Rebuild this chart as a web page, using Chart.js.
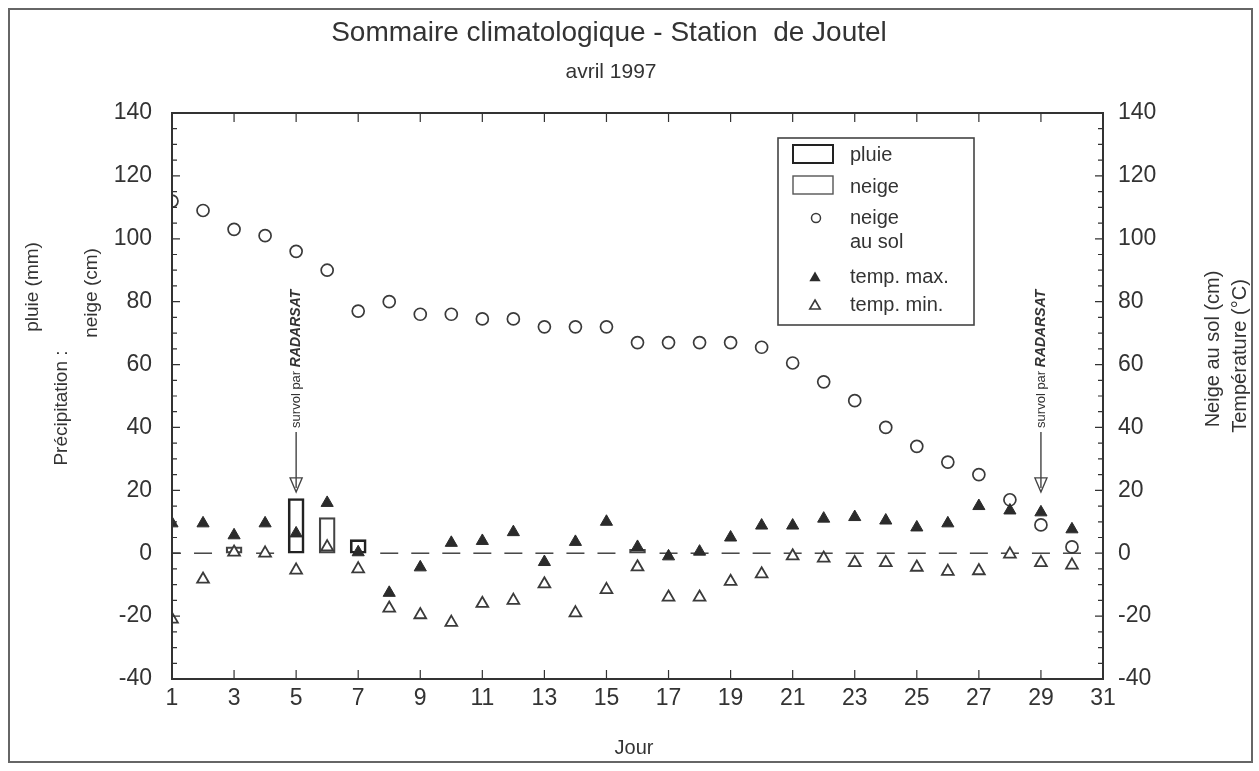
<!DOCTYPE html>
<html>
<head>
<meta charset="utf-8">
<title>Sommaire climatologique - Station de Joutel</title>
<script src="https://cdn.jsdelivr.net/npm/chart.js@4/dist/chart.umd.min.js"></script>
<style>
  html, body { margin: 0; padding: 0; background: #fff; }
  canvas { display: block; }
</style>
</head>
<body>
<canvas id="chart" width="1259" height="771"></canvas>
<script>
// avril 1997, jours 1 à 30
const days = [1, 2, 3, 4, 5, 6, 7, 8, 9, 10, 11, 12, 13, 14, 15,
  16, 17, 18, 19, 20, 21, 22, 23, 24, 25, 26, 27, 28, 29, 30];

// précipitations : pluie (mm) et neige (cm)
const pluie = [0, 0, 0, 0, 17.4, 0, 4.3, 0, 0, 0, 0, 0, 0, 0, 0,
  0, 0, 0, 0, 0, 0, 0, 0, 0, 0, 0, 0, 0, 0, 0];
const neige = [0, 0, 2, 0, 0, 11.3, 0, 0, 0, 0, 0, 0, 0, 0, 0,
  1.2, 0, 0, 0, 0, 0, 0, 0, 0, 0, 0, 0, 0, 0, 0];

// neige au sol (cm)
const neigeSol = [112, 109, 103, 101, 96, 90, 77, 80, 76, 76, 74.5, 74.5, 72, 72, 72,
  67, 67, 67, 67, 65.5, 60.5, 54.5, 48.5, 40, 34, 29, 25, 17, 9, 2];

// températures (°C)
const tempMax = [9.5, 9.5, 5.7, 9.5, 6.3, 16, 0.3, -12.6, -4.5, 3.3, 3.9, 6.7, -2.8, 3.6, 10,
  2, -1, 0.5, 5, 8.8, 8.8, 11, 11.5, 10.4, 8.2, 9.5, 15, 13.6, 13, 7.6];
const tempMin = [-21, -8.3, 0.3, 0, -5.4, 2, -5, -17.5, -19.6, -22, -16, -15, -9.8, -19, -11.6,
  -4.4, -14, -14, -9, -6.6, -0.9, -1.6, -3, -3, -4.5, -5.8, -5.6, -0.3, -3, -3.8];

const xTicks = [1, 3, 5, 7, 9, 11, 13, 15, 17, 19, 21, 23, 25, 27, 29, 31];
const yTicks = [-40, -20, 0, 20, 40, 60, 80, 100, 120, 140];

// passages du satellite
const radarsatDays = [5, 29];

const FONT = "'Liberation Sans', Arial, Helvetica, sans-serif";
const INK = '#333';

const pts = arr => days.map((d, i) => ({ x: d, y: arr[i] }));
const bars = arr => pts(arr).filter(p => p.y > 0);
const dryDays = days.filter((d, i) => pluie[i] + neige[i] === 0).map(d => ({ x: d, y: 0 }));

function vtext(ctx, txt, x, y) {
  ctx.save();
  ctx.translate(x, y);
  ctx.rotate(-Math.PI / 2);
  ctx.textAlign = 'center';
  ctx.textBaseline = 'middle';
  ctx.fillText(txt, 0, 0);
  ctx.restore();
}

function tri(ctx, x, y, r, filled) {
  ctx.beginPath();
  ctx.moveTo(x, y - r);
  ctx.lineTo(x + r * 0.866, y + r * 0.5);
  ctx.lineTo(x - r * 0.866, y + r * 0.5);
  ctx.closePath();
  if (filled) { ctx.fillStyle = '#2b2b2b'; ctx.fill(); }
  else { ctx.fillStyle = '#fff'; ctx.fill(); ctx.stroke(); }
}

const decor = {
  id: 'decor',
  beforeDraw(chart) {
    const ctx = chart.ctx;
    ctx.save();
    ctx.fillStyle = '#fff';
    ctx.fillRect(0, 0, chart.width, chart.height);
    ctx.restore();
  },
  afterDraw(chart) {
    const { ctx, chartArea: a, scales: { x, y } } = chart;
    ctx.save();

    // cadre extérieur
    ctx.strokeStyle = '#666';
    ctx.lineWidth = 2;
    ctx.strokeRect(9, 9, 1243, 753);

    // cadre du graphique
    ctx.strokeStyle = INK;
    ctx.lineWidth = 2;
    ctx.strokeRect(a.left, a.top, a.right - a.left, a.bottom - a.top);

    // graduations vers l'intérieur
    ctx.lineWidth = 1.2;
    ctx.beginPath();
    for (let v = -40; v <= 140; v += 5) {
      const py = y.getPixelForValue(v);
      const len = v % 20 === 0 ? 8 : 5;
      ctx.moveTo(a.left, py); ctx.lineTo(a.left + len, py);
      ctx.moveTo(a.right, py); ctx.lineTo(a.right - len, py);
    }
    xTicks.forEach(d => {
      const px = x.getPixelForValue(d);
      ctx.moveTo(px, a.top); ctx.lineTo(px, a.top + 9);
      ctx.moveTo(px, a.bottom); ctx.lineTo(px, a.bottom - 9);
    });
    ctx.stroke();

    // titres
    ctx.fillStyle = INK;
    ctx.textAlign = 'center';
    ctx.textBaseline = 'middle';
    ctx.font = '28px ' + FONT;
    ctx.fillText('Sommaire climatologique - Station  de Joutel', 609, 33);
    ctx.font = '21px ' + FONT;
    ctx.fillText('avril 1997', 611, 72);
    ctx.font = '20px ' + FONT;
    ctx.fillText('Jour', 634, 748);

    // titres des axes
    ctx.font = '19px ' + FONT;
    vtext(ctx, 'pluie (mm)', 33, 287);
    vtext(ctx, 'Précipitation :', 62, 408);
    vtext(ctx, 'neige (cm)', 92, 293);
    ctx.font = '20px ' + FONT;
    vtext(ctx, 'Neige au sol (cm)', 1213, 349);
    vtext(ctx, 'Température (°C)', 1240, 356);

    // survol par RADARSAT
    radarsatDays.forEach(d => {
      const px = x.getPixelForValue(d);
      const tip = y.getPixelForValue(19.5);
      const base = tip - 64;
      ctx.save();
      ctx.translate(px, base);
      ctx.rotate(-Math.PI / 2);
      ctx.textAlign = 'left';
      ctx.textBaseline = 'middle';
      ctx.font = '13px ' + FONT;
      ctx.fillText('survol par ', 0, 0);
      const w = ctx.measureText('survol par ').width;
      ctx.font = 'italic bold 14px ' + FONT;
      ctx.fillText('RADARSAT', w, 0);
      ctx.restore();
      ctx.strokeStyle = '#444';
      ctx.lineWidth = 1.4;
      ctx.beginPath();
      ctx.moveTo(px, base + 4);
      ctx.lineTo(px, tip - 4);
      ctx.moveTo(px - 6, tip - 14);
      ctx.lineTo(px, tip);
      ctx.lineTo(px + 6, tip - 14);
      ctx.closePath();
      ctx.stroke();
    });

    // légende
    ctx.fillStyle = '#fff';
    ctx.fillRect(778, 138, 196, 187);
    ctx.strokeStyle = '#444';
    ctx.lineWidth = 1.6;
    ctx.strokeRect(778, 138, 196, 187);
    ctx.strokeStyle = '#222';
    ctx.lineWidth = 2;
    ctx.strokeRect(793, 145, 40, 18);
    ctx.strokeStyle = '#555';
    ctx.lineWidth = 1.4;
    ctx.strokeRect(793, 176, 40, 18);
    ctx.strokeStyle = '#3a3a3a';
    ctx.lineWidth = 1.5;
    ctx.beginPath();
    ctx.arc(816, 218, 4.5, 0, Math.PI * 2);
    ctx.stroke();
    tri(ctx, 815, 278, 6.5, true);
    ctx.lineWidth = 1.6;
    tri(ctx, 815, 306, 6, false);
    ctx.fillStyle = INK;
    ctx.textAlign = 'left';
    ctx.textBaseline = 'middle';
    ctx.font = '20px ' + FONT;
    ctx.fillText('pluie', 850, 155);
    ctx.fillText('neige', 850, 187);
    ctx.fillText('neige', 850, 218);
    ctx.fillText('au sol', 850, 242);
    ctx.fillText('temp. max.', 850, 277);
    ctx.fillText('temp. min.', 850, 305);

    ctx.restore();
  }
};

const tickFont = { family: FONT, size: 23 };

new Chart(document.getElementById('chart'), {
  type: 'scatter',
  data: {
    datasets: [
      {
        type: 'bar', label: 'pluie', data: bars(pluie),
        backgroundColor: 'rgba(0,0,0,0)', borderColor: '#222', borderWidth: 2,
        borderSkipped: false, barThickness: 16, grouped: false, order: 5, clip: 0
      },
      {
        type: 'bar', label: 'neige', data: bars(neige),
        backgroundColor: 'rgba(0,0,0,0)', borderColor: '#444', borderWidth: 1.6,
        borderSkipped: false, barThickness: 16, grouped: false, order: 5, clip: 0
      },
      {
        label: 'sans précipitation', data: dryDays,
        pointStyle: 'line', radius: 9, borderColor: '#444', borderWidth: 1.5, order: 4, clip: 0
      },
      {
        label: 'neige au sol', data: pts(neigeSol), yAxisID: 'y2',
        pointStyle: 'circle', radius: 6, borderWidth: 1.7,
        borderColor: '#3a3a3a', backgroundColor: 'rgba(0,0,0,0)', order: 3, clip: 0
      },
      {
        label: 'temp. min.', data: pts(tempMin), yAxisID: 'y2',
        pointStyle: 'triangle', radius: 6.8, borderWidth: 1.8,
        borderColor: '#3a3a3a', backgroundColor: '#fff', order: 2, clip: 0
      },
      {
        label: 'temp. max.', data: pts(tempMax), yAxisID: 'y2',
        pointStyle: 'triangle', radius: 7, borderWidth: 1,
        borderColor: '#2b2b2b', backgroundColor: '#2b2b2b', order: 1, clip: 0
      }
    ]
  },
  options: {
    responsive: false,
    animation: false,
    devicePixelRatio: 1,
    layout: { padding: { top: 113, left: 0, right: 0, bottom: 0 } },
    plugins: { legend: { display: false }, tooltip: { enabled: false } },
    scales: {
      x: {
        type: 'linear', min: 1, max: 31, offset: false,
        grid: { display: false, drawTicks: false, offset: false },
        border: { display: false },
        ticks: { font: tickFont, color: INK, padding: 6, maxRotation: 0 },
        afterBuildTicks: s => { s.ticks = xTicks.map(v => ({ value: v })); },
        afterFit: s => { s.height = 92; }
      },
      y: {
        type: 'linear', position: 'left', min: -40, max: 140,
        grid: { display: false, drawTicks: false },
        border: { display: false },
        ticks: { font: tickFont, color: INK, padding: 20 },
        afterBuildTicks: s => { s.ticks = yTicks.map(v => ({ value: v })); },
        afterFit: s => { s.width = 172; }
      },
      y2: {
        type: 'linear', position: 'right', min: -40, max: 140,
        grid: { display: false, drawTicks: false },
        border: { display: false },
        ticks: { font: tickFont, color: INK, padding: 15 },
        afterBuildTicks: s => { s.ticks = yTicks.map(v => ({ value: v })); },
        afterFit: s => { s.width = 156; }
      }
    }
  },
  plugins: [decor]
});
</script>
</body>
</html>
